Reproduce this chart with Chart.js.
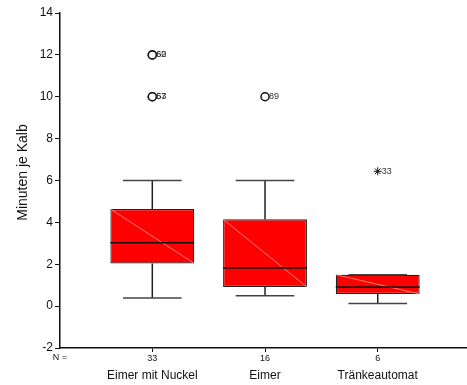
<!DOCTYPE html>
<html>
<head>
<meta charset="utf-8">
<script src="https://cdn.jsdelivr.net/npm/chart.js@4/dist/chart.umd.min.js"></script>
<style>
  html, body { margin: 0; padding: 0; background: #fff; }
  canvas { display: block; }
</style>
</head>
<body>
<canvas id="c" width="467" height="385"></canvas>
<script>
// Tränkedauer je Kalb nach Tränkesystem (Boxplot)
const groups = ['Eimer mit Nuckel', 'Eimer', 'Tränkeautomat'];
const groupPos = [1, 2, 3];
const nCounts = ['33', '16', '6'];
const q1 = [2.04, 0.91, 0.58];
const q3 = [4.64, 4.15, 1.50];
const medians = [3.03, 1.82, 0.91];
const whiskerLow = [0.39, 0.50, 0.13];
const whiskerHigh = [6.0, 6.0, 1.50];

// Ausreißer (Kreis) und Extremwerte (Stern) mit Fallnummer
const outlierGroup = [1, 1, 1, 1, 2, 3];
const outlierValue = [12, 12, 10, 10, 10, 6.44];
const outlierCase = ['60', '62', '57', '63', '89', '33'];
const outlierKind = ['circle', 'circle', 'circle', 'circle', 'circle', 'star'];

const yTicks = [-2, 0, 2, 4, 6, 8, 10, 12, 14];

const FONT = 'Liberation Sans, Arial, Helvetica, sans-serif';
const CAP_HALF = 0.26;
const X_MIN = 0.181;
const X_MAX = 3.792;

const boxPlotPlugin = {
  id: 'boxPlotParts',
  afterDatasetsDraw(chart) {
    const ctx = chart.ctx;
    const xs = chart.scales.x;
    const ys = chart.scales.y;
    const boxes = chart.getDatasetMeta(0).data;
    ctx.save();
    boxes.forEach((bar, i) => {
      const left = bar.x - bar.width / 2;
      const right = bar.x + bar.width / 2;
      const top = bar.y;
      const bottom = bar.base;
      // diagonal highlight
      ctx.strokeStyle = 'rgba(255,170,170,0.9)';
      ctx.lineWidth = 0.8;
      ctx.beginPath();
      ctx.moveTo(left, top);
      ctx.lineTo(right, bottom);
      ctx.stroke();
      // median
      const ym = ys.getPixelForValue(medians[i]);
      ctx.strokeStyle = '#111';
      ctx.lineWidth = 1.5;
      ctx.beginPath();
      ctx.moveTo(left, ym);
      ctx.lineTo(right, ym);
      ctx.stroke();
      // whiskers
      const yHi = ys.getPixelForValue(whiskerHigh[i]);
      const yLo = ys.getPixelForValue(whiskerLow[i]);
      ctx.strokeStyle = '#222';
      ctx.lineWidth = 1.5;
      ctx.beginPath();
      ctx.moveTo(bar.x, top); ctx.lineTo(bar.x, yHi);
      ctx.moveTo(bar.x, bottom); ctx.lineTo(bar.x, yLo);
      ctx.stroke();
      const cl = xs.getPixelForValue(groupPos[i] - CAP_HALF);
      const cr = xs.getPixelForValue(groupPos[i] + CAP_HALF);
      ctx.strokeStyle = '#444';
      ctx.beginPath();
      ctx.moveTo(cl, yHi); ctx.lineTo(cr, yHi);
      ctx.moveTo(cl, yLo); ctx.lineTo(cr, yLo);
      ctx.stroke();
    });
    // case numbers beside outliers
    const pts = chart.getDatasetMeta(1).data;
    ctx.fillStyle = '#333';
    ctx.font = '9px ' + FONT;
    ctx.textAlign = 'left';
    ctx.textBaseline = 'middle';
    pts.forEach((p, i) => {
      ctx.fillText(outlierCase[i], p.x + 4, p.y);
    });
    ctx.restore();
  },
  afterDraw(chart) {
    const ctx = chart.ctx;
    const area = chart.chartArea;
    ctx.save();
    // "N =" row header
    ctx.fillStyle = '#111';
    ctx.font = '9px ' + FONT;
    ctx.textAlign = 'center';
    ctx.textBaseline = 'middle';
    ctx.fillText('N =', area.left, area.bottom + 10);
    // y-axis title
    ctx.font = '14px ' + FONT;
    ctx.translate(area.left - 37, (area.top + area.bottom) / 2 - 8);
    ctx.rotate(-Math.PI / 2);
    ctx.fillText('Minuten je Kalb', 0, 0);
    ctx.restore();
  }
};

new Chart(document.getElementById('c'), {
  type: 'bar',
  data: {
    datasets: [
      {
        type: 'bar',
        data: groupPos.map((x, i) => ({ x: x, y: [q1[i], q3[i]] })),
        backgroundColor: '#ff0000',
        borderColor: '#222',
        borderWidth: 1.2,
        borderSkipped: false,
        barPercentage: 0.93,
        categoryPercentage: 0.8,
        xAxisID: 'x',
        yAxisID: 'y'
      },
      {
        type: 'scatter',
        data: outlierGroup.map((x, i) => ({ x: x, y: outlierValue[i] })),
        pointStyle: outlierKind,
        pointRadius: 4,
        backgroundColor: '#fff',
        borderColor: '#111',
        borderWidth: outlierKind.map(k => k === 'star' ? 1 : 1.5),
        xAxisID: 'x',
        yAxisID: 'y'
      }
    ]
  },
  options: {
    responsive: false,
    animation: false,
    devicePixelRatio: 1,
    layout: { autoPadding: false, padding: { top: 13, right: 0, left: 0, bottom: 0 } },
    plugins: { legend: { display: false }, tooltip: { enabled: false } },
    scales: {
      x: {
        type: 'linear',
        position: 'bottom',
        offset: false,
        min: X_MIN,
        max: X_MAX,
        afterBuildTicks(s) { s.ticks = groupPos.map(v => ({ value: v })); },
        afterFit(s) { s.height = 17; s.paddingRight = 0; s.paddingLeft = 0; },
        ticks: {
          callback: (v) => nCounts[groupPos.indexOf(v)] ?? '',
          font: { family: FONT, size: 9 },
          color: '#111',
          padding: 1,
          maxRotation: 0,
          autoSkip: false
        },
        grid: { offset: false, drawOnChartArea: false, drawTicks: true, tickLength: 4, color: '#111' },
        border: { display: true, color: '#111', width: 1.5 }
      },
      x2: {
        type: 'linear',
        position: 'bottom',
        offset: false,
        min: X_MIN,
        max: X_MAX,
        afterBuildTicks(s) { s.ticks = groupPos.map(v => ({ value: v })); },
        afterFit(s) { s.height = 20; s.paddingRight = 0; s.paddingLeft = 0; },
        ticks: {
          callback: (v) => groups[groupPos.indexOf(v)] ?? '',
          font: { family: FONT, size: 12 },
          color: '#111',
          padding: 3,
          maxRotation: 0,
          autoSkip: false
        },
        grid: { offset: false, display: false, drawTicks: false },
        border: { display: false }
      },
      y: {
        type: 'linear',
        min: -2,
        max: 14,
        afterBuildTicks(s) { s.ticks = yTicks.map(v => ({ value: v })); },
        afterFit(s) { s.width = 60; },
        ticks: {
          font: { family: FONT, size: 12 },
          color: '#111',
          padding: 2
        },
        grid: { drawOnChartArea: false, drawTicks: true, tickLength: 5, color: '#111' },
        border: { display: true, color: '#111', width: 1.5 }
      }
    }
  },
  plugins: [boxPlotPlugin]
});
</script>
</body>
</html>
